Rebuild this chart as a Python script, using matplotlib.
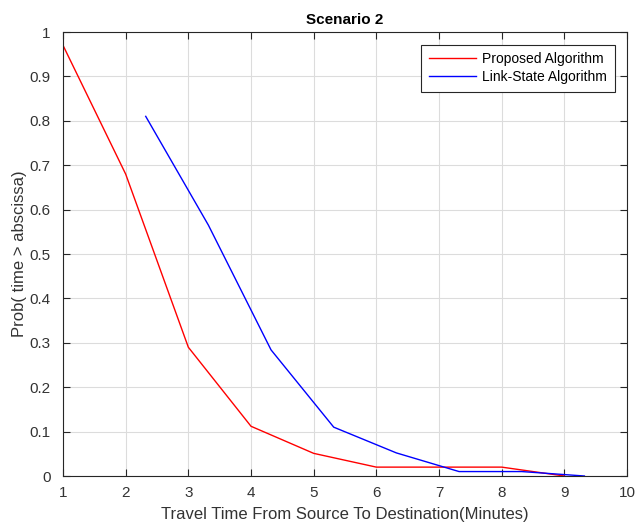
import matplotlib
matplotlib.use("Agg")
import matplotlib.pyplot as plt

plt.rcParams['font.family'] = ['Liberation Sans', 'DejaVu Sans']

prop_x = [1, 2, 3, 4, 5, 6, 7, 8, 9]
prop_y = [0.97, 0.68, 0.29, 0.112, 0.051, 0.02, 0.02, 0.02, 0.0]
link_x = [2.32, 3.32, 4.32, 5.32, 6.32, 7.32, 8.32, 9.32]
link_y = [0.81, 0.565, 0.284, 0.11, 0.052, 0.01, 0.01, 0.0]

xticks = [1, 2, 3, 4, 5, 6, 7, 8, 9, 10]
yticks = [0, 0.1, 0.2, 0.3, 0.4, 0.5, 0.6, 0.7, 0.8, 0.9, 1]
ytick_labels = ['0', '0.1', '0.2', '0.3', '0.4', '0.5', '0.6', '0.7', '0.8', '0.9', '1']

fig = plt.figure(figsize=(6.37, 5.27), dpi=100)
ax = fig.add_axes([63/637, 51/527, 564/637, 444/527])

ax.plot(prop_x, prop_y, color='#ff0000', lw=1.0, label='Proposed Algorithm')
ax.plot(link_x, link_y, color='#0000ff', lw=1.0, label='Link-State Algorithm')

ax.set_xlim(1, 10)
ax.set_ylim(0, 1)
ax.set_xticks(xticks)
ax.set_xticklabels([str(t) for t in xticks])
ax.set_yticks(yticks)
ax.set_yticklabels(ytick_labels)
ax.grid(True, color='#dcdcdc', lw=0.8)
ax.set_axisbelow(True)
ax.tick_params(direction='in', top=True, right=True, length=5, width=0.8,
               colors='#262626', labelsize=11, labelcolor='#333333')
ax.tick_params(axis='x', pad=7.5)
ax.tick_params(axis='y', pad=9)
for s in ax.spines.values():
    s.set_color('#262626')
    s.set_linewidth(0.8)

ax.set_title('Scenario 2', fontsize=11, fontweight='bold', pad=6)
ax.set_xlabel('Travel Time From Source To Destination(Minutes)', fontsize=12, color='#333333', labelpad=5)
ax.set_ylabel('Prob( time > abscissa)', fontsize=12, color='#333333', labelpad=2)

leg = ax.legend(loc='upper right', fontsize=10, fancybox=False, framealpha=1,
                edgecolor='#262626', borderpad=0.55, handlelength=3.4,
                labelspacing=0.3, borderaxespad=0.9, handletextpad=0.45)
leg.get_frame().set_linewidth(0.8)

fig.savefig('out.png', dpi=100)
